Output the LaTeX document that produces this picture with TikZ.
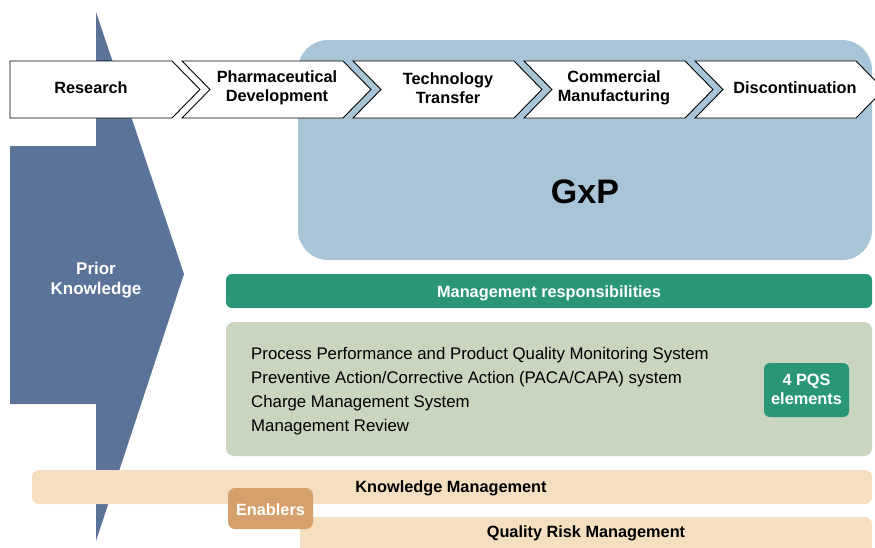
\documentclass[tikz,border=0pt]{standalone}
\usepackage{fontspec}
\setmainfont{Liberation Sans}
\begin{document}
\definecolor{arrowblue}{HTML}{5B7399}
\definecolor{gxpblue}{HTML}{A8C4D6}
\definecolor{mgmtgreen}{HTML}{2A9678}
\definecolor{palegreen}{HTML}{C9D6BD}
\definecolor{enablerbeige}{HTML}{F5DFC0}
\definecolor{enablertan}{HTML}{D6A06C}
\begin{tikzpicture}[x=1pt,y=-1pt,
  stage/.style={draw=black,line width=0.9pt,fill=white,line join=miter},
  stagetext/.style={font=\fontsize{16.3}{19}\selectfont\bfseries,align=center,inner sep=0pt},
  whitebold/.style={font=\fontsize{16.3}{19}\selectfont\bfseries,text=white,align=center,inner sep=0pt},
  blackbold/.style={font=\fontsize{16.3}{19}\selectfont\bfseries,text=black,align=center,inner sep=0pt},
  element/.style={font=\fontsize{16.8}{20}\selectfont,anchor=base west,inner sep=0pt}]
\useasboundingbox (0,0) rectangle (875,547);
\clip (0,0) rectangle (875,547);
\fill[white] (0,0) rectangle (875,547);

% prior knowledge arrow
\fill[arrowblue] (10,146) -- (96,146) -- (96,12) -- (184,274) -- (96,541)
  -- (96,404) -- (10,404) -- cycle;
\node[whitebold,font=\fontsize{17}{20}\selectfont\bfseries] (prior) at (96,280) {Prior\\Knowledge};

% GxP area
\fill[gxpblue,rounded corners=30pt] (298,40) rectangle (872,260);
\node[font=\fontsize{34}{40}\selectfont\bfseries,inner sep=0pt] (gxp) at (585,192) {GxP};

% lifecycle stages
\draw[stage] (10,61) -- (172,61) -- (200,89.5) -- (172,118) -- (10,118) -- cycle;
\draw[stage] (182,61) -- (343,61) -- (371,89.5) -- (343,118) -- (182,118) -- (210,89.5) -- cycle;
\draw[stage] (353,61) -- (514,61) -- (542,89.5) -- (514,118) -- (353,118) -- (381,89.5) -- cycle;
\draw[stage] (524,61) -- (685,61) -- (713,89.5) -- (685,118) -- (524,118) -- (552,89.5) -- cycle;
\draw[stage] (695,61) -- (856,61) -- (884,89.5) -- (856,118) -- (695,118) -- (723,89.5) -- cycle;
\node[stagetext] (research) at (91,88) {Research};
\node[stagetext] (pharmdev) at (277,88) {Pharmaceutical\\Development};
\node[stagetext] (techtrans) at (448,88) {Technology\\Transfer};
\node[stagetext] (commman) at (614,88) {Commercial\\Manufacturing};
\node[stagetext] (discont) at (795,88) {Discontinuation};

% management responsibilities
\fill[mgmtgreen,rounded corners=6pt] (226,274) rectangle (872,308);
\node[whitebold] (mgmt) at (549,293) {Management responsibilities};

% PQS elements
\fill[palegreen,rounded corners=8pt] (226,322) rectangle (872,456);
\node[element] (e1) at (251,359) {Process Performance and Product Quality Monitoring System};
\node[element] (e2) at (251,383) {Preventive Action/Corrective Action (PACA/CAPA) system};
\node[element] (e3) at (251,407) {Charge Management System};
\node[element] (e4) at (251,431) {Management Review};
\fill[mgmtgreen,rounded corners=6pt] (764,363) rectangle (849,417);
\node[whitebold] (pqs) at (806.5,389) {4 PQS\\elements};

% enablers
\fill[enablerbeige,rounded corners=7pt] (32,470) rectangle (872,504);
\node[blackbold] (km) at (451,488) {Knowledge Management};
\fill[enablerbeige,rounded corners=7pt] (300,517) rectangle (872,560);
\node[blackbold] (qrm) at (586,533) {Quality Risk Management};
\fill[enablertan,rounded corners=7pt] (228,488) rectangle (313,529);
\node[whitebold] (enablers) at (270.5,509.5) {Enablers};
\end{tikzpicture}
\end{document}
